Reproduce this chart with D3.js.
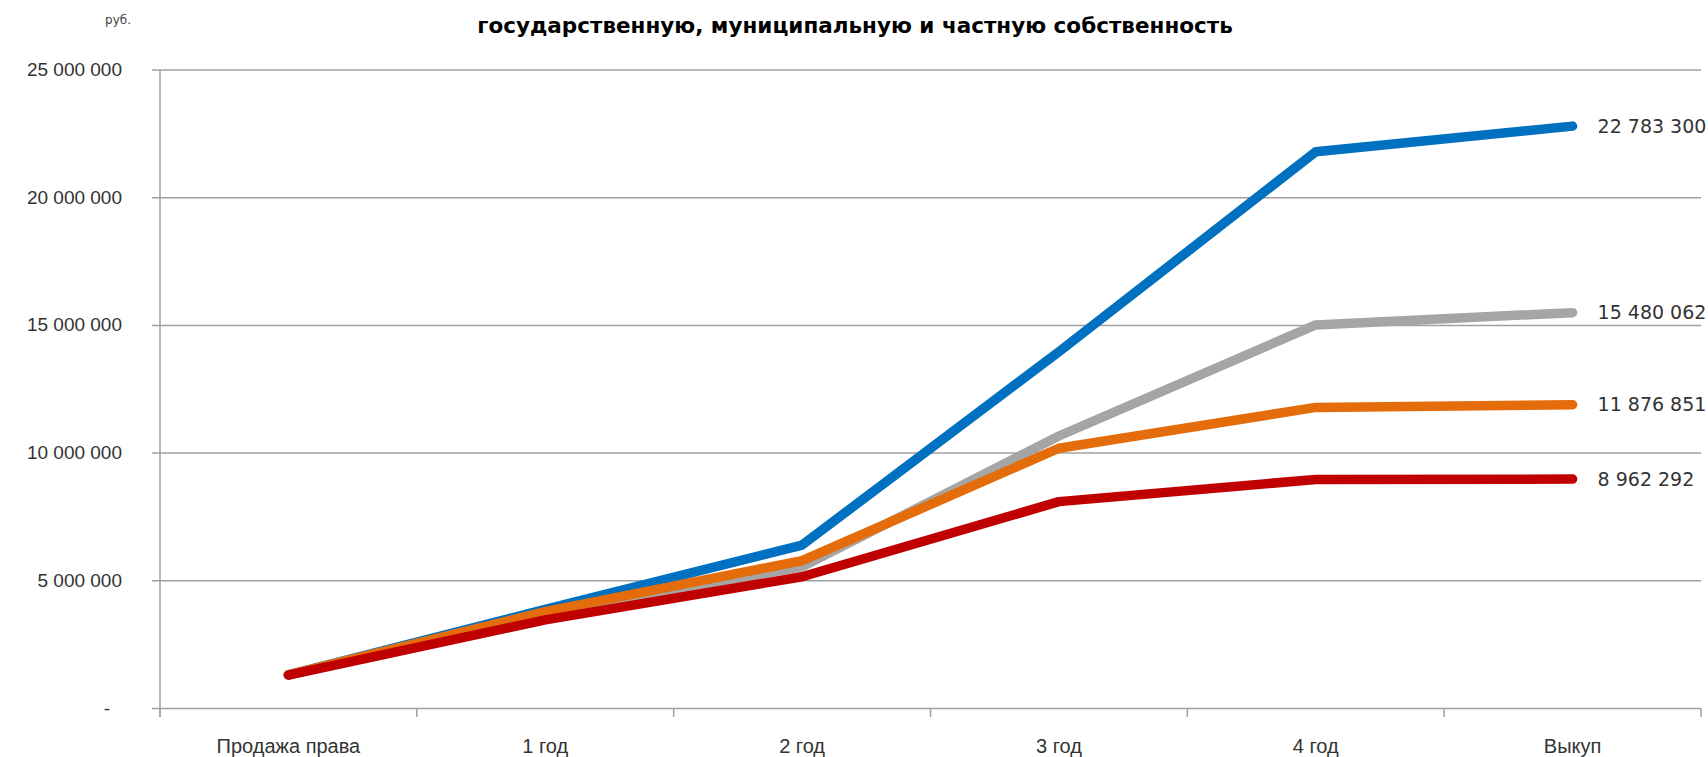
<!DOCTYPE html>
<html>
<head>
<meta charset="utf-8">
<script src="https://cdn.jsdelivr.net/npm/d3@7"></script>
<style>
  html, body { margin: 0; padding: 0; background: #fff; }
  svg { display: block; font-family: "DejaVu Sans", sans-serif; }
</style>
</head>
<body>
<div id="chart"></div>
<script>
(() => {
const categories = ['Продажа права', '1 год', '2 год', '3 год', '4 год', 'Выкуп'];

const seriesNames = ['blue', 'gray', 'orange', 'red'];
const blueValues = [1300000, 3860000, 6380000, 13950000, 21780000, 22783300];
const grayValues = [1300000, 3750000, 5530000, 10650000, 15000000, 15480062];
const orangeValues = [1300000, 3770000, 5770000, 10170000, 11770000, 11876851];
const redValues = [1290000, 3450000, 5140000, 8080000, 8950000, 8962292];

const yTicks = [0, 5000000, 10000000, 15000000, 20000000, 25000000];

const titleLine = 'государственную, муниципальную и частную собственность';
const unitLabel = 'руб.';

const colors = {
    blue: '#0070c0',
    gray: '#a5a5a5',
    orange: '#e46c0a',
    red: '#c00000'
};

const width = 1708;
const height = 757;
const plot = { left: 160, right: 1701, top: 69.5, bottom: 708 };

const svg = d3.select('#chart')
    .append('svg')
    .attr('width', width)
    .attr('height', height);

const x = d3.scaleBand().domain(categories).range([plot.left, plot.right]).padding(0);
const y = d3.scaleLinear().domain([0, 25000000]).range([plot.bottom, plot.top]);

const ru = d3.formatLocale({ decimal: ',', thousands: '\u00a0', grouping: [3], currency: ['', ''] });
const fmt = ru.format(',');

// title (second line, the first one is cut off in the original)
svg.append('text')
    .attr('x', 855)
    .attr('y', 33)
    .attr('text-anchor', 'middle')
    .style('font-weight', 'bold')
    .style('font-size', '21.5px')
    .attr('fill', '#000')
    .text(titleLine);

svg.append('text')
    .attr('x', 118)
    .attr('y', 24)
    .attr('text-anchor', 'middle')
    .style('font-size', '12px')
    .attr('fill', '#444')
    .text(unitLabel);

// y axis with gridlines
const yAxis = svg.append('g')
    .attr('transform', `translate(${plot.left},0)`)
    .call(d3.axisLeft(y)
        .tickValues(yTicks)
        .tickSize(-(plot.right - plot.left))
        .tickPadding(38)
        .tickFormat(d => d === 0 ? '-' : fmt(d)));

yAxis.select('.domain').remove();
yAxis.selectAll('.tick line')
    .attr('x1', -8)
    .attr('stroke', '#a0a0a0')
    .attr('stroke-width', 1.5);
yAxis.selectAll('.tick text')
    .attr('x', -38)
    .style('font-size', '19px')
    .attr('fill', '#333');
yAxis.selectAll('.tick text')
    .filter(d => d === 0)
    .attr('x', -50);

// vertical axis line
svg.append('line')
    .attr('x1', plot.left).attr('x2', plot.left)
    .attr('y1', y(25000000)).attr('y2', plot.bottom + 9)
    .attr('stroke', '#a0a0a0')
    .attr('stroke-width', 1.5);

// x axis
const xAxis = svg.append('g')
    .attr('transform', `translate(0,${plot.bottom})`)
    .call(d3.axisBottom(x).tickSize(0).tickPadding(38));

xAxis.select('.domain').remove();
xAxis.selectAll('.tick text')
    .attr('dy', '0.35em')
    .style('font-size', '20px')
    .attr('fill', '#333');

const bounds = categories.map(c => x(c)).concat([x(categories[categories.length - 1]) + x.bandwidth()]);
svg.append('g')
    .selectAll('line')
    .data(bounds)
    .enter()
    .append('line')
    .attr('x1', d => d).attr('x2', d => d)
    .attr('y1', plot.bottom).attr('y2', plot.bottom + 9)
    .attr('stroke', '#a0a0a0')
    .attr('stroke-width', 1.5);

// lines
const series = [
    { name: 'blue', values: blueValues },
    { name: 'gray', values: grayValues },
    { name: 'orange', values: orangeValues },
    { name: 'red', values: redValues }
];

const line = d3.line()
    .x((d, i) => x(categories[i]) + x.bandwidth() / 2)
    .y(d => y(d));

svg.append('g')
    .selectAll('path')
    .data(series)
    .enter()
    .append('path')
    .attr('d', d => line(d.values))
    .attr('fill', 'none')
    .attr('stroke', d => colors[d.name])
    .attr('stroke-width', 9.5)
    .attr('stroke-linecap', 'round')
    .attr('stroke-linejoin', 'round');

// end labels
const last = categories.length - 1;
svg.append('g')
    .selectAll('text')
    .data(series)
    .enter()
    .append('text')
    .attr('x', x(categories[last]) + x.bandwidth() / 2 + 25)
    .attr('y', d => y(d.values[last]))
    .attr('dy', '0.35em')
    .style('font-size', '19px')
    .attr('fill', '#333')
    .text(d => fmt(d.values[last]));
})();
</script>
</body>
</html>
